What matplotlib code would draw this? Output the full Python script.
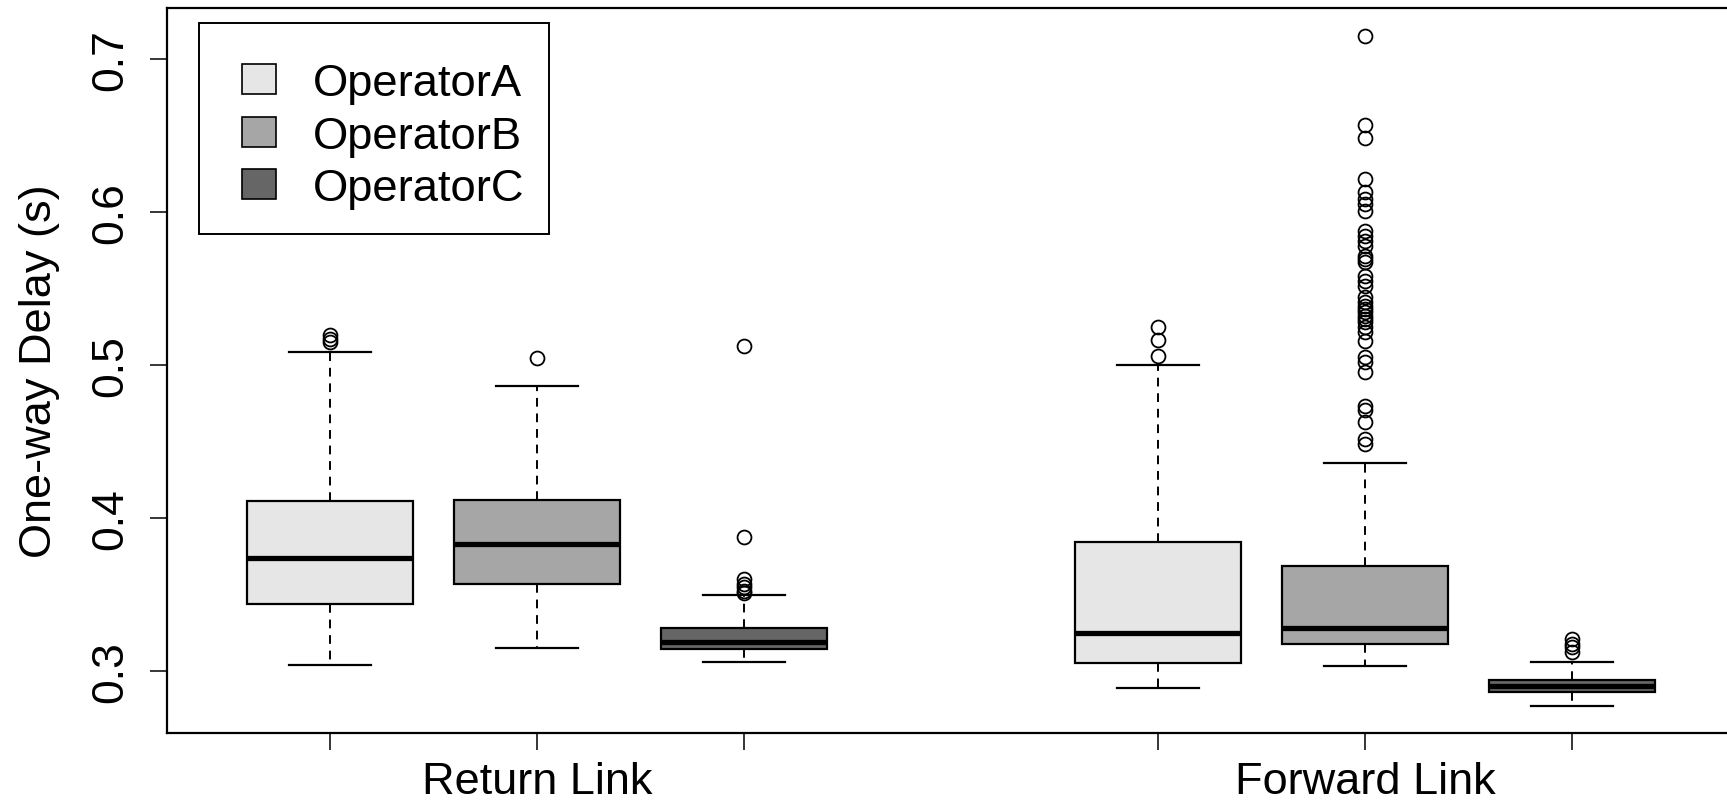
import numpy as np
import matplotlib
matplotlib.use('Agg')
import matplotlib.pyplot as plt
from matplotlib.patches import Patch, Rectangle
from matplotlib.legend_handler import HandlerPatch

plt.rcParams['font.family'] = ['Liberation Sans', 'DejaVu Sans']

# Estatisticas das caixas, ordem: A, B, C
operators = ['OperatorA', 'OperatorB', 'OperatorC']
groups = ['Return Link', 'Forward Link']
colors = ['#e6e6e6', '#a6a6a6', '#666666']

ret_q1 = [0.3441, 0.3572, 0.3147]
ret_med = [0.3742, 0.3831, 0.3191]
ret_q3 = [0.4112, 0.4121, 0.3286]
ret_lo = [0.3041, 0.3152, 0.3064]
ret_hi = [0.5090, 0.4866, 0.3500]
ret_fliers = [
    [0.5155, 0.5175, 0.5200],
    [0.5051],
    [0.5125, 0.3879, 0.3605, 0.3572, 0.3550, 0.3528, 0.3513],
]

fwd_q1 = [0.3054, 0.3180, 0.2864]
fwd_med = [0.3252, 0.3284, 0.2903]
fwd_q3 = [0.3848, 0.3688, 0.2944]
fwd_lo = [0.2890, 0.3036, 0.2773]
fwd_hi = [0.5005, 0.4361, 0.3060]
fwd_fliers = [
    [0.5064, 0.5167, 0.5254],
    [0.7156, 0.6572, 0.6485, 0.6219, 0.6136, 0.6088, 0.6056, 0.6012,
     0.5881, 0.5848, 0.5816, 0.5783, 0.5718, 0.5696, 0.5674, 0.5587,
     0.5554, 0.5522, 0.5446, 0.5413, 0.5391, 0.5369, 0.5348, 0.5326,
     0.5304, 0.5283, 0.5250, 0.5217, 0.5162, 0.5054, 0.5021, 0.4956,
     0.4737, 0.4711, 0.4629, 0.4520, 0.4487],
    [0.3129, 0.3158, 0.3180, 0.3212],
]

positions = [1, 2, 3, 5, 6, 7]
group_pos = [2, 6]

# montar lista de stats para bxp
stats = []
for q1, med, q3, lo, hi, fl in [
        *zip(ret_q1, ret_med, ret_q3, ret_lo, ret_hi, ret_fliers),
        *zip(fwd_q1, fwd_med, fwd_q3, fwd_lo, fwd_hi, fwd_fliers)]:
    stats.append(dict(q1=q1, med=med, q3=q3, whislo=lo, whishi=hi, fliers=fl))

fig = plt.figure(figsize=(17.27, 8.04), dpi=100)
ax = fig.add_axes([0.0967, 0.0871, 0.9094, 0.9015])

bp = ax.bxp(stats, positions=positions, widths=0.8, patch_artist=True,
            boxprops=dict(linewidth=1.6, edgecolor='black'),
            medianprops=dict(color='black', linewidth=3.8, solid_capstyle='butt'),
            whiskerprops=dict(color='black', linewidth=1.4, linestyle=(0, (4.5, 3.5))),
            capprops=dict(color='black', linewidth=1.6),
            capwidths=0.4,
            flierprops=dict(marker='o', markersize=10, markerfacecolor='none',
                            markeredgecolor='black', markeredgewidth=1.3))

for i, box in enumerate(bp['boxes']):
    box.set_facecolor(colors[i % 3])

ax.set_xlim(0.2126, 7.8)
ax.set_ylim(0.2598, 0.7335)

for s in ax.spines.values():
    s.set_linewidth(1.6)
ax.spines['right'].set_visible(False)

# ticks nas caixas, rotulos dos grupos como minor ticks sem marca
ax.xaxis.remove_overlapping_locs = False
ax.set_xticks(positions)
ax.set_xticklabels([])
ax.set_xticks(group_pos, minor=True)
ax.set_xticklabels(groups, minor=True)
ax.tick_params(axis='x', which='major', length=12, width=1.1)
ax.tick_params(axis='x', which='minor', length=0, pad=20, labelsize=32.5)

ax.set_yticks([0.3, 0.4, 0.5, 0.6, 0.7])
ax.set_yticklabels(['0.3', '0.4', '0.5', '0.6', '0.7'], rotation=90, va='center')
ax.tick_params(axis='y', length=12, width=1.1, labelsize=32, pad=14)

ax.set_ylabel('One-way Delay (s)', fontsize=32.5)
ax.yaxis.set_label_coords(-0.0815, 0.5)
ax.yaxis.label.set_va('center')

# quadradinho da legenda deslocado para a direita (estilo R)
def caixa_legenda(legend, orig_handle, xdescent, ydescent, width, height, fontsize):
    return Rectangle((-xdescent + 13, -ydescent), width, height)

handles = [Patch(facecolor=c, edgecolor='black', linewidth=1.2) for c in colors]
leg = ax.legend(handles, operators, loc='upper left',
                bbox_to_anchor=(199 / 1727, 1 - 24 / 804), bbox_transform=fig.transFigure,
                borderaxespad=0, fontsize=32.7, fancybox=False, edgecolor='black',
                framealpha=1, handlelength=0.74, handleheight=0.63,
                handletextpad=1.22, labelspacing=0.25, borderpad=0.55,
                title=' ', title_fontsize=2,
                handler_map={Patch: HandlerPatch(patch_func=caixa_legenda)})
leg.get_frame().set_linewidth(1.4)

fig.savefig('out.png', dpi=100)
